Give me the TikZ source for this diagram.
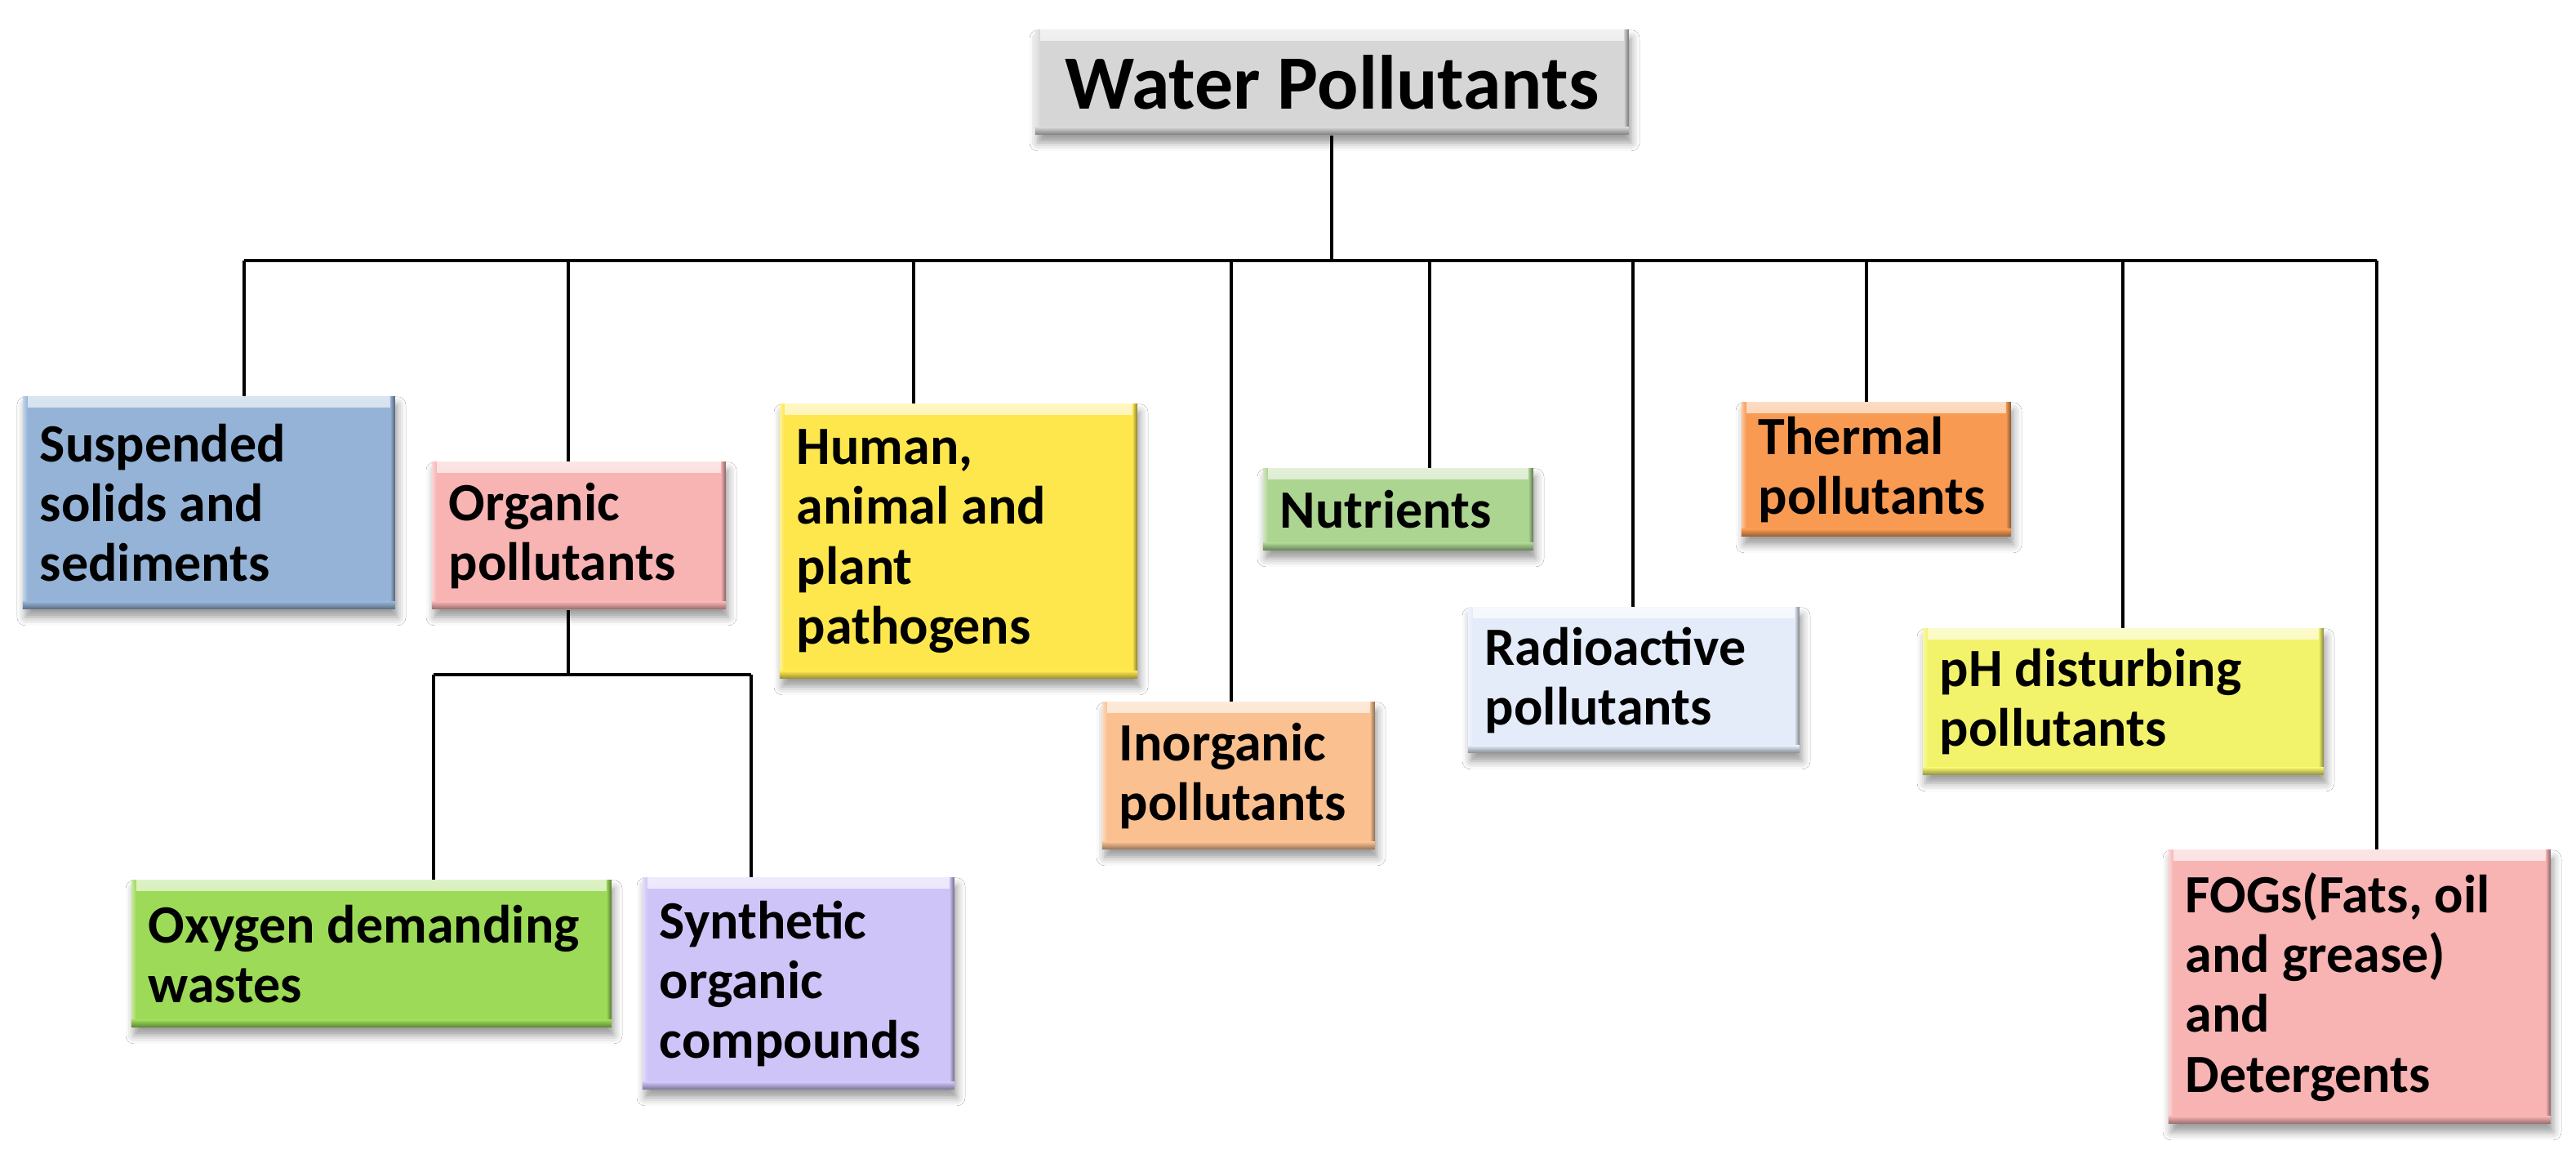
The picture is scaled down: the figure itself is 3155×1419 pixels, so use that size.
\documentclass[tikz,border=0pt]{standalone}
\usepackage{fontspec}
\usetikzlibrary{shadows.blur}
\newfontfamily\cfont{Carlito}
\def\pxu{0.25pt}
\definecolor{cgray}{HTML}{D6D6D6}
\definecolor{cblue}{HTML}{95B3D7}
\definecolor{cpink}{HTML}{F8B3B3}
\definecolor{cyel}{HTML}{FDE74C}
\definecolor{cpeach}{HTML}{FAC090}
\definecolor{cgreenl}{HTML}{ADD592}
\definecolor{cice}{HTML}{E4EBF9}
\definecolor{corange}{HTML}{F89A52}
\definecolor{cph}{HTML}{F3F36B}
\definecolor{cgreen}{HTML}{9CDA58}
\definecolor{clav}{HTML}{CFC4F8}
\tikzset{
  pbox/.style={draw=none, fill=#1, anchor=north west, inner xsep=21*\pxu, inner ysep=0pt,
    align=flush left, font=\cfont\bfseries\fontsize{16.5pt}{18.3pt}\selectfont,
    blur shadow={shadow xshift=0.8pt, shadow yshift=-2.5pt, shadow blur radius=2.5pt, shadow opacity=40},
    path picture={
      \fill[top color=#1!35!white, bottom color=#1] (path picture bounding box.north west) rectangle ([yshift=-13*\pxu]path picture bounding box.north east);
      \fill[left color=#1!55!white, right color=#1] (path picture bounding box.north west) rectangle ([xshift=6*\pxu]path picture bounding box.south west);
      \fill[left color=#1, right color=#1!55!black] ([xshift=-6*\pxu]path picture bounding box.north east) rectangle (path picture bounding box.south east);
      \fill[top color=#1, bottom color=#1!60!black] ([yshift=9*\pxu]path picture bounding box.south west) rectangle (path picture bounding box.south east);
    }},
  link/.style={draw=black, line width=4*\pxu},
}
\begin{document}
\begin{tikzpicture}[x=0.25pt, y=-0.25pt]
\useasboundingbox[fill=white] (0,0) rectangle (3155,1419);

% nodes
\node[pbox=cgray, minimum width=727*\pxu, minimum height=128*\pxu, text width=685*\pxu, align=flush center,
  font=\cfont\bfseries\fontsize{23.5pt}{27pt}\selectfont] (root) at (1267,36) {Water Pollutants};

\node[pbox=cblue, text width=414*\pxu, minimum height=260*\pxu] (sus) at (27,485) {Suspended\\ solids and\\ sediments};
\node[pbox=cpink, text width=318*\pxu, minimum height=180*\pxu] (org) at (528,565) {Organic\\ pollutants};
\node[pbox=cyel, text width=396*\pxu, minimum height=336*\pxu] (hum) at (954,494) {Human,\\ animal and\\ plant\\ pathogens};
\node[pbox=cpeach, text width=292*\pxu, minimum height=180*\pxu] (inorg) at (1349,859) {Inorganic\\ pollutants};
\node[pbox=cgreenl, text width=289*\pxu, minimum height=100*\pxu] (nut) at (1546,573) {Nutrients};
\node[pbox=cice, text width=364*\pxu, minimum height=178*\pxu] (rad) at (1797,743) {Radioactive\\ pollutants};
\node[pbox=corange, text width=288*\pxu, minimum height=164*\pxu] (the) at (2132,492) {Thermal\\ pollutants};
\node[pbox=cph, text width=449*\pxu, minimum height=179*\pxu] (ph) at (2354,769) {pH disturbing\\ pollutants};
\node[pbox=cpink, text width=426*\pxu, minimum height=335*\pxu] (fog) at (2655,1040) {FOGs(Fats, oil\\ and grease)\\ and\\ Detergents};
\node[pbox=cgreen, text width=546*\pxu, minimum height=180*\pxu] (oxy) at (160,1077) {Oxygen demanding\\ wastes};
\node[pbox=clav, text width=340*\pxu, minimum height=259*\pxu] (syn) at (786,1074) {Synthetic\\ organic\\ compounds};

% bus coordinates
\coordinate (b1) at (299,319);
\coordinate (b2) at (696,319);
\coordinate (b3) at (1119,319);
\coordinate (b4) at (1508,319);
\coordinate (b5) at (1751,319);
\coordinate (b6) at (2000,319);
\coordinate (b7) at (2286,319);
\coordinate (b8) at (2600,319);
\coordinate (b9) at (2911,319);
\coordinate (s0) at (696,826);
\coordinate (s1) at (531,826);
\coordinate (s2) at (920,826);

\draw[link] (root.south) -- (root.south |- b1);
\draw[link] (b1) -- (b9);
\draw[link] (b1) -- (b1 |- sus.north);
\draw[link] (b2) -- (b2 |- org.north);
\draw[link] (b3) -- (b3 |- hum.north);
\draw[link] (b4) -- (b4 |- inorg.north);
\draw[link] (b5) -- (b5 |- nut.north);
\draw[link] (b6) -- (b6 |- rad.north);
\draw[link] (b7) -- (b7 |- the.north);
\draw[link] (b8) -- (b8 |- ph.north);
\draw[link] (b9) -- (b9 |- fog.north);
\draw[link] (s0 |- org.south) -- (s0);
\draw[link] (s1) -- (s2);
\draw[link] (s1) -- (s1 |- oxy.north);
\draw[link] (s2) -- (s2 |- syn.north);
\end{tikzpicture}
\end{document}
